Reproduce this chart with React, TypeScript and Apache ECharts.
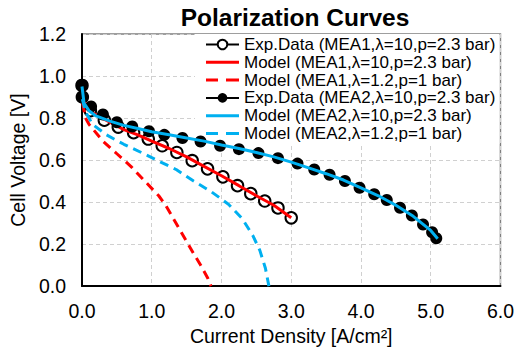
import React, { useEffect, useRef } from "react";
import * as echarts from "echarts";

const FONT = "'Liberation Sans', Arial, sans-serif";
const RED = "#FF0000";
const BLUE = "#00B0F0";

const xTicks = [0, 1, 2, 3, 4, 5, 6];
const yTicks = [0, 0.2, 0.4, 0.6, 0.8, 1.0, 1.2];

const seriesNames = [
  "Exp.Data (MEA1,λ=10,p=2.3 bar)",
  "Model (MEA1,λ=10,p=2.3 bar)",
  "Model (MEA1,λ=1.2,p=1 bar)",
  "Exp.Data (MEA2,λ=10,p=2.3 bar)",
  "Model (MEA2,λ=10,p=2.3 bar)",
  "Model (MEA2,λ=1.2,p=1 bar)",
];

// MEA1 experimental data
const exp1X = [0, 0.005, 0.12, 0.32, 0.52, 0.74, 0.95, 1.15, 1.36, 1.58, 1.8, 2.02, 2.23, 2.42, 2.62, 2.81, 3.0];
const exp1Y = [0.955, 0.9, 0.835, 0.79, 0.757, 0.73, 0.7, 0.668, 0.636, 0.597, 0.558, 0.52, 0.478, 0.44, 0.405, 0.372, 0.325];

// MEA1 model, lambda=10, p=2.3 bar
const mod1X = [0, 0.03, 0.1, 0.2, 0.4, 0.6, 0.8, 1.0, 1.25, 1.5, 1.75, 2.0, 2.25, 2.5, 2.75, 3.0];
const mod1Y = [0.95, 0.88, 0.84, 0.815, 0.78, 0.745, 0.72, 0.69, 0.655, 0.615, 0.57, 0.525, 0.478, 0.43, 0.385, 0.325];

// MEA1 model, lambda=1.2, p=1 bar
const mod1bX = [0.01, 0.05, 0.1, 0.3, 0.5, 0.7, 0.9, 1.1, 1.2, 1.4, 1.6, 1.7, 1.8, 1.85];
const mod1bY = [0.87, 0.8, 0.77, 0.69, 0.63, 0.57, 0.5, 0.43, 0.385, 0.27, 0.155, 0.1, 0.04, 0.0];

// MEA2 experimental data
const exp2X = [0, 0.005, 0.13, 0.3, 0.5, 0.72, 0.96, 1.18, 1.44, 1.7, 1.98, 2.25, 2.53, 2.81, 3.09, 3.33, 3.55, 3.77, 3.98, 4.19, 4.37, 4.56, 4.73, 4.89, 5.02, 5.08];
const exp2Y = [0.958, 0.9, 0.855, 0.817, 0.78, 0.76, 0.737, 0.72, 0.705, 0.688, 0.668, 0.652, 0.633, 0.609, 0.583, 0.555, 0.53, 0.5, 0.468, 0.437, 0.41, 0.373, 0.336, 0.293, 0.256, 0.228];

// MEA2 model, lambda=10, p=2.3 bar
const mod2X = [0, 0.03, 0.1, 0.2, 0.4, 0.6, 0.8, 1.0, 1.25, 1.5, 1.75, 2.0, 2.25, 2.5, 2.75, 3.0, 3.25, 3.5, 3.75, 4.0, 4.25, 4.5, 4.75, 5.0, 5.1];
const mod2Y = [0.95, 0.87, 0.835, 0.81, 0.785, 0.765, 0.75, 0.735, 0.72, 0.705, 0.69, 0.672, 0.655, 0.636, 0.615, 0.59, 0.563, 0.535, 0.505, 0.468, 0.43, 0.385, 0.332, 0.265, 0.225];

// MEA2 model, lambda=1.2, p=1 bar
const mod2bX = [0.005, 0.05, 0.15, 0.35, 0.6, 0.85, 1.1, 1.35, 1.6, 1.85, 2.1, 2.3, 2.45, 2.55, 2.63, 2.68];
const mod2bY = [0.89, 0.83, 0.77, 0.72, 0.675, 0.636, 0.595, 0.555, 0.5, 0.45, 0.39, 0.32, 0.24, 0.17, 0.085, 0.0];

const zip = (xs: number[], ys: number[]) => xs.map((x, i) => [x, ys[i]]);

const SOLID_ICON = "path://M0,0H33V3H0Z";
const DASH_ICON = "path://M0,0H12V3H0Z M20,0H33V3H20Z";

export default function App() {
  const ref = useRef<HTMLDivElement>(null);
  useEffect(() => {
    if (!ref.current) return;
    const chart = echarts.init(ref.current, undefined, { renderer: "svg" });
    const dashed = [9, 6];
    chart.setOption({
      animation: false,
      backgroundColor: "#fff",
      textStyle: { fontFamily: FONT },
      title: {
        text: "Polarization Curves",
        left: 295,
        textAlign: "center",
        top: 5,
        padding: 0,
        textStyle: { fontFamily: FONT, fontSize: 24.5, fontWeight: "bold", color: "#000" },
      },
      grid: {
        left: 77,
        right: 15,
        top: 34,
        bottom: 63,
        show: true,
        borderColor: "#7f7f7f",
        borderWidth: 1.5,
        backgroundColor: "transparent",
      },
      legend: {
        orient: "vertical",
        left: 195,
        top: 34,
        padding: [2, 4, 2, 10],
        itemGap: 0.8,
        itemWidth: 33,
        itemHeight: 12,
        backgroundColor: "#fff",
        selectedMode: false,
        textStyle: { fontFamily: FONT, fontSize: 17, color: "#000", lineHeight: 16 },
        data: [
          { name: seriesNames[0], lineStyle: { width: 2, color: "#000", opacity: 1 } },
          { name: seriesNames[1], icon: SOLID_ICON },
          { name: seriesNames[2], icon: DASH_ICON },
          { name: seriesNames[3], lineStyle: { width: 2, color: "#000", opacity: 1 } },
          { name: seriesNames[4], icon: SOLID_ICON },
          { name: seriesNames[5], icon: DASH_ICON },
        ],
      },
      xAxis: {
        type: "value",
        min: xTicks[0],
        max: xTicks[xTicks.length - 1],
        interval: 1,
        name: "Current Density [A/cm²]",
        nameLocation: "middle",
        nameGap: 34,
        nameTextStyle: { fontFamily: FONT, fontSize: 19.5, color: "#000" },
        axisLine: { show: true, onZero: false, lineStyle: { color: "#000", width: 2 } },
        axisTick: { show: false },
        axisLabel: {
          margin: 15,
          fontFamily: FONT,
          fontSize: 19.5,
          color: "#000",
          formatter: (v: number) => v.toFixed(1),
        },
        splitLine: { show: true, lineStyle: { color: "#d0d0d0", type: [4, 3], width: 1 } },
      },
      yAxis: {
        type: "value",
        min: yTicks[0],
        max: yTicks[yTicks.length - 1],
        interval: 0.2,
        name: "Cell Voltage [V]",
        nameLocation: "middle",
        nameGap: 48,
        nameTextStyle: { fontFamily: FONT, fontSize: 19.5, color: "#000" },
        axisLine: { show: true, onZero: false, lineStyle: { color: "#000", width: 2 } },
        axisTick: { show: false },
        axisLabel: {
          margin: 16,
          fontFamily: FONT,
          fontSize: 19.5,
          color: "#000",
          formatter: (v: number) => v.toFixed(1),
        },
        splitLine: { show: true, lineStyle: { color: "#d0d0d0", type: [4, 3], width: 1 } },
      },
      series: [
        {
          name: seriesNames[0],
          type: "line",
          data: zip(exp1X, exp1Y),
          symbol: "emptyCircle",
          symbolSize: 11.5,
          color: "#000",
          itemStyle: { color: "#000", borderWidth: 1.6 },
          lineStyle: { width: 0 },
          z: 2,
        },
        {
          name: seriesNames[1],
          type: "line",
          data: zip(mod1X, mod1Y),
          symbol: "none",
          color: RED,
          itemStyle: { color: RED },
          lineStyle: { color: RED, width: 3 },
          z: 3,
        },
        {
          name: seriesNames[2],
          type: "line",
          data: zip(mod1bX, mod1bY),
          symbol: "none",
          color: RED,
          itemStyle: { color: RED },
          lineStyle: { color: RED, width: 3, type: dashed },
          z: 3,
        },
        {
          name: seriesNames[3],
          type: "line",
          data: zip(exp2X, exp2Y),
          symbol: "circle",
          symbolSize: 12,
          color: "#000",
          itemStyle: { color: "#000" },
          lineStyle: { width: 0 },
          z: 4,
        },
        {
          name: seriesNames[4],
          type: "line",
          data: zip(mod2X, mod2Y),
          symbol: "none",
          color: BLUE,
          itemStyle: { color: BLUE },
          lineStyle: { color: BLUE, width: 3 },
          z: 5,
        },
        {
          name: seriesNames[5],
          type: "line",
          data: zip(mod2bX, mod2bY),
          symbol: "none",
          color: BLUE,
          itemStyle: { color: BLUE },
          lineStyle: { color: BLUE, width: 3, type: dashed },
          z: 5,
        },
      ],
    });
    return () => chart.dispose();
  }, []);
  return <div ref={ref} style={{ width: 517, height: 351, position: "absolute", left: 0, top: 0 }} />;
}
